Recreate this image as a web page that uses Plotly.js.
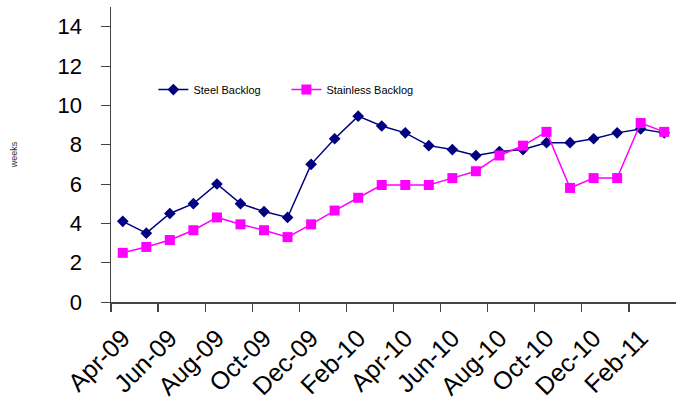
<!DOCTYPE html>
<html>
<head>
<meta charset="utf-8">
<script src="https://cdn.plot.ly/plotly-3.0.1.min.js"></script>
<style>html,body{margin:0;padding:0;background:#fff;}#chart{width:676px;height:402px;}</style>
</head>
<body>
<div id="chart"></div>
<script>
const months = ["Apr-09","May-09","Jun-09","Jul-09","Aug-09","Sep-09","Oct-09","Nov-09","Dec-09","Jan-10","Feb-10","Mar-10",
                "Apr-10","May-10","Jun-10","Jul-10","Aug-10","Sep-10","Oct-10","Nov-10","Dec-10","Jan-11","Feb-11","Mar-11"];
const steelBacklog = [4.1,3.5,4.5,5.0,6.0,5.0,4.6,4.3,7.0,8.3,9.45,8.95,8.6,7.95,7.75,7.45,7.65,7.75,8.1,8.1,8.3,8.6,8.8,8.6];
const stainlessBacklog = [2.5,2.8,3.15,3.65,4.3,3.95,3.65,3.3,3.95,4.65,5.3,5.95,5.95,5.95,6.3,6.65,7.45,7.95,8.65,5.8,6.3,6.3,9.1,8.65];
const tickLabels = ["Apr-09","Jun-09","Aug-09","Oct-09","Dec-09","Feb-10","Apr-10","Jun-10","Aug-10","Oct-10","Dec-10","Feb-11"];
const yTicks = [0,2,4,6,8,10,12,14];

const fontFam = "Liberation Sans, Arial, sans-serif";
// months are placed by their index on a linear axis; labels via tickvals/ticktext
const monthPos = months.map((m, i) => i);
const labelPos = tickLabels.map(l => months.indexOf(l));
// tick marks sit on the boundary before each labelled month
const boundaryPos = labelPos.map(p => p - 0.5);
const xRange = [-0.5, months.length - 0.5];

const data = [
  {x: monthPos, y: steelBacklog, name: "Steel Backlog", type: "scatter", mode: "lines+markers",
   text: months, line: {color: "#000080", width: 1.5}, marker: {symbol: "diamond", size: 9, color: "#000080"}},
  {x: monthPos, y: stainlessBacklog, name: "Stainless Backlog", type: "scatter", mode: "lines+markers",
   text: months, line: {color: "#FF00FF", width: 1.5}, marker: {symbol: "square", size: 10, color: "#FF00FF"}}
];

const layout = {
  width: 676, height: 402,
  margin: {l: 111, r: 0, t: 7, b: 100},
  paper_bgcolor: "#fff", plot_bgcolor: "#fff",
  font: {family: fontFam, color: "#000"},
  showlegend: true,
  legend: {orientation: "h", x: 0.075, y: 0.72, xanchor: "left", yanchor: "middle",
           font: {family: fontFam, size: 11, color: "#000"}, itemwidth: 30, bgcolor: "rgba(0,0,0,0)",
           traceorder: "normal", entrywidth: 88},
  xaxis: {type: "linear", range: xRange, tickmode: "array", tickvals: labelPos, ticktext: tickLabels,
          tickangle: -45, tickfont: {family: fontFam, size: 25, color: "#000"},
          showline: true, linecolor: "#444", linewidth: 1.5, ticks: "", ticklabelstandoff: 10,
          minor: {tickmode: "array", tickvals: boundaryPos, ticks: "outside", ticklen: 8, tickcolor: "#444", tickwidth: 1.2, showgrid: false},
          showgrid: false, zeroline: false},
  yaxis: {range: [0, 15], tickmode: "array", tickvals: yTicks, ticktext: yTicks.map(String),
          tickfont: {family: fontFam, size: 22, color: "#000"},
          showline: true, linecolor: "#444", linewidth: 1.5, ticks: "outside", ticklen: 9, tickcolor: "#444",
          ticklabelstandoff: 14,
          showgrid: false, zeroline: false,
          title: {text: "weeks", font: {family: fontFam, size: 9, color: "#333"}, standoff: 38}}
};

Plotly.newPlot("chart", data, layout, {displayModeBar: false, staticPlot: true});
</script>
</body>
</html>
